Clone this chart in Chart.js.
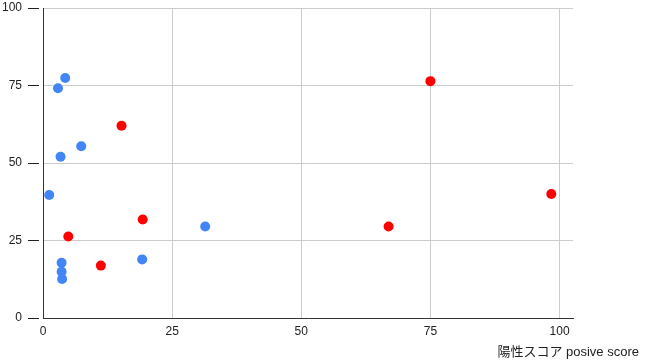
<!DOCTYPE html>
<html>
<head>
<meta charset="utf-8">
<script src="https://cdn.jsdelivr.net/npm/chart.js@4/dist/chart.umd.min.js"></script>
<style>
  html, body { margin: 0; padding: 0; background: #fff; }
  #wrap { width: 657px; height: 360px; }
</style>
</head>
<body>
<div id="wrap"><canvas id="grafico"></canvas></div>
<script>
// valores
var azulX = [4.3, 2.9, 7.4, 3.4, 1.2, 31.4, 3.6, 19.2, 3.6, 3.7];
var azulY = [77.4, 74.1, 55.4, 52.0, 39.7, 29.5, 17.8, 18.9, 14.9, 12.6];
var vermelhoX = [15.2, 4.9, 19.3, 11.2, 75.0, 66.9, 98.4];
var vermelhoY = [62.0, 26.3, 31.8, 16.9, 76.4, 29.5, 40.0];
var ticksX = [0, 25, 50, 75, 100];
var ticksY = [0, 25, 50, 75, 100];
var tituloX = '陽性スコア posive score';

function pontos(xs, ys) {
    return xs.map(function (x, i) { return { x: x, y: ys[i] }; });
}

var fonte = "Arial, 'Liberation Sans', 'Noto Sans CJK JP', sans-serif";

var ctx = document.getElementById('grafico').getContext('2d');
var grafico = new Chart(ctx, {
    type: 'scatter',
    data: {
        datasets: [{
            label: 'azul',
            data: pontos(azulX, azulY),
            backgroundColor: '#4285f4',
            borderWidth: 0,
            pointRadius: 5,
            pointHoverRadius: 5
        }, {
            label: 'vermelho',
            data: pontos(vermelhoX, vermelhoY),
            backgroundColor: '#ff0000',
            borderWidth: 0,
            pointRadius: 5,
            pointHoverRadius: 5
        }]
    },
    options: {
        responsive: true,
        maintainAspectRatio: false,
        animation: false,
        layout: { padding: { top: 8, right: 18, bottom: 0, left: 0 } },
        scales: {
            x: {
                type: 'linear',
                min: 0,
                max: 102.6,
                afterBuildTicks: function (s) {
                    s.ticks = ticksX.map(function (v) { return { value: v }; });
                },
                grid: { color: '#cccccc', drawTicks: false },
                border: { color: '#333333', width: 1 },
                ticks: { color: '#222222', padding: 6, font: { family: fonte, size: 12 } }
            },
            y: {
                min: 0,
                max: 100,
                afterBuildTicks: function (s) {
                    s.ticks = ticksY.map(function (v) { return { value: v }; });
                },
                afterFit: function (s) {
                    s.width = 43;
                    s.paddingTop = 0;
                    s.paddingBottom = 0;
                },
                grid: {
                    color: '#cccccc',
                    tickColor: '#222222',
                    tickLength: 15,
                    tickBorderDash: [11, 20]
                },
                border: { color: '#333333', width: 1 },
                ticks: { color: '#222222', padding: 6, font: { family: fonte, size: 12 } }
            },
            direita: {
                type: 'linear',
                position: 'right',
                display: true,
                grid: { display: false, drawTicks: false },
                border: { display: false },
                ticks: { display: false },
                afterFit: function (s) {
                    s.width = 66;
                    s.paddingTop = 0;
                    s.paddingBottom = 0;
                }
            }
        },
        plugins: {
            legend: { display: false },
            tooltip: { enabled: false },
            title: {
                display: true,
                position: 'bottom',
                align: 'end',
                text: tituloX,
                color: '#222222',
                font: { family: fonte, size: 13, weight: 'normal' },
                padding: { top: 0, bottom: 0 }
            }
        }
    }
});
</script>
</body>
</html>
